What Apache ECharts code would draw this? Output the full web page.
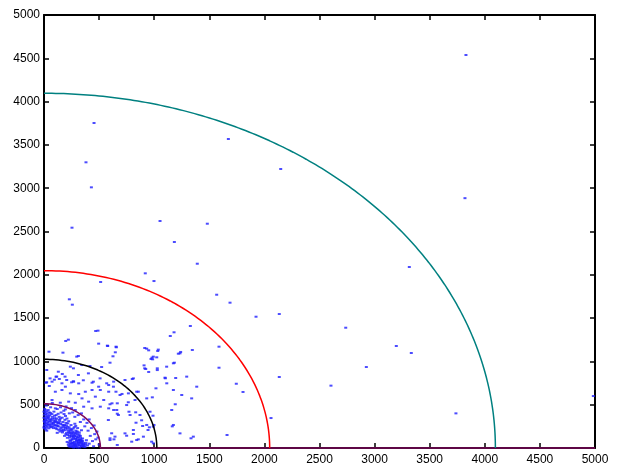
<!DOCTYPE html>
<html>
<head>
<meta charset="utf-8">
<script src="https://cdn.jsdelivr.net/npm/echarts@6/dist/echarts.min.js"></script>
<style>
  html, body { margin: 0; padding: 0; background: #fff; }
  #chart { width: 621px; height: 468px; }
</style>
</head>
<body>
<div id="chart"></div>
<script>
// tick labels, both axes 0..5000 step 500
const axisMin = 0;
const axisMax = 5000;
const tickStep = 500;

// quarter circle radii and their colours
const radii = [512, 1024, 2048, 4096];
const radiusColors = ['#7d0a5c', '#000000', '#ff0000', '#008080'];

// scattered points (outer ones)
const farPoints = [
  [454,3753],[1673,3568],[381,3299],[2148,3222],[430,3010],[254,2544],[1053,2621],[1482,2590],
  [1183,2379],[1391,2128],[919,2017],[998,1928],[514,1917],[230,1717],[257,1655],[1567,1770],
  [1688,1678],[2135,1547],[3829,4538],[3820,2885],[3315,2090],[2738,1389],[3197,1178],[3333,1097],
  [2925,935],[2604,720],[3738,400],[4985,600],[1924,1516],[1328,1409],[1180,1336],[1146,1293],
  [1588,1170],[1346,1132],[1240,1109],[1219,1089],[1032,1120],[992,1055],[971,1028],[1183,985],
  [1113,939],[1028,920],[1028,900],[1588,927],[1195,808],[1101,805],[1016,689],[1745,742],
  [1806,647],[2135,820],[983,585],[1334,112],[1661,150],[2060,346],[1191,505],[1164,250],
  [490,1355],[469,1351],[221,1251],[197,1236],[496,1205],[578,1178],[656,1163],[647,1105],
  [172,1101],[45,1112],[297,1055],[914,1155],[950,1128],[1037,1136],[980,1043],[914,920],
  [239,939],[417,947],[523,935],[801,797],[626,1059],[599,985],[950,878]
];

// points between the purple and black circles
const midPoints = [
  [653,650],[708,624],[856,650],[665,516],[765,528],[599,505],[771,419],[832,412],[665,396],
  [989,373],[835,292],[886,320],[895,254],[956,239],[944,208],[998,266],[614,170],[599,112],
  [635,100],[750,142],[811,162],[856,100],[796,73],[665,35],[992,54],
  [166,855],[109,823],[139,797],[94,789],[206,785],[266,770],[251,759],[24,759],[357,782],
  [312,1062],[575,1182],[654,1170],[932,1147],[1023,1047],[986,1024],[908,954],[923,912],
  [1098,812],[1174,978],[1234,1093],[342,958],[267,920],[130,881],[25,901],[55,804],[115,824],
  [191,824],[312,843],[403,862],[448,766],[509,804],[569,747],[630,708],[735,785],[811,804],
  [690,612],[766,631],[841,650],[932,573],[826,554],[750,496],[660,439],[584,323],[675,381],
  [781,381],[871,381],[962,419],[932,266],[992,246],[811,208],[735,169],[644,131],[599,92],
  [841,92],[902,131],[977,73],[1174,670],[1250,612],[1340,573],[1174,266],[1234,169],[1355,131],
  [1159,439],[1386,708],[1295,824],[1114,747],
  [18,754],[48,716],[73,766],[194,708],[163,747],[269,766],[315,747],[436,754],[496,708],
  [587,727],[632,766],[103,650],[163,670],[239,631],[315,623],[375,650],[436,670],[511,670],
  [587,650],[466,593],[345,573],[284,523],[224,535],[405,535],[542,554],[617,516],[73,554],
  [148,523],[360,477],[436,458],[511,477],[587,458],[632,439],[284,439],[194,446],[103,458]
];

// dense band close to the origin
const nearPoints = [
  [5,300],[12,262],[8,341],[20,285],[15,390],[28,318],[3,228],[35,270],[40,352],[10,410],
  [22,236],[48,305],[55,262],[30,395],[62,330],[18,360],[45,228],[70,290],[6,452],[38,438],
  [75,360],[58,405],[25,200],[80,250],[14,318],[42,275],[66,242],[33,345],[52,380],[88,318],
  [92,270],[105,230],[98,345],[118,300],[125,255],[110,380],[135,210],[140,325],[150,280],[128,395],
  [160,240],[165,350],[172,300],[145,190],[185,265],[190,325],[178,215],[200,290],[155,410],[120,175],
  [210,245],[195,370],[208,340],[220,200],[102,305],[138,360],[168,180],[182,392],[224,310],[115,340],
  [230,170],[240,220],[250,135],[245,265],[262,190],[270,150],[275,240],[285,110],[290,200],[300,160],
  [255,95],[310,120],[305,230],[320,180],[235,120],[215,150],[280,280],[330,140],[298,85],[265,225],
  [322,95],[248,175],[288,255],[340,205],[205,175],[312,60],[258,60],[236,90],[350,110],[295,135],
  [220,40],[235,15],[248,55],[262,25],[275,70],[282,10],[290,45],[300,20],[310,75],[318,35],
  [325,5],[335,55],[340,20],[350,80],[360,40],[372,10],[380,60],[395,30],[240,80],[268,40],
  [296,62],[305,5],[330,90],[355,15],[270,5],[210,70],[228,60],[345,45],[385,90],[410,50],
  [60,470],[120,450],[180,430],[230,400],[280,360],[330,300],[370,250],[400,200],[420,140],[440,80],
  [450,20],[90,420],[150,470],[260,410],[310,380],[360,330],[390,290],[430,230],[460,160],[470,100],
  [20,490],[75,520],[200,480],[250,460],[340,400],[410,330],[455,260],[480,190],[500,40],[490,120],
  [4,265],[16,215],[27,372],[50,330],[85,285],[112,262],[132,290],[158,205],[176,260],[196,230],
  [216,285],[228,240],[252,210],[268,120],[283,165],[302,190],[318,140],[336,100],[244,30],[278,30],
  [2,312],[9,286],[19,332],[26,252],[36,298],[44,366],[53,246],[61,312],[68,272],[77,338],
  [84,230],[94,298],[101,258],[108,322],[116,218],[124,282],[131,248],[143,306],[152,226],[163,270],
  [171,196],[183,242],[192,206],[203,262],[213,222],[226,182],[238,198],[246,152],[256,168],[264,132],
  [272,176],[279,138],[287,102],[294,180],[303,118],[311,92],[319,158],[327,72],[332,118],[342,84],
  [226,24],[242,46],[254,12],[266,62],[276,48],[286,26],[294,84],[306,38],[316,56],[328,28],
  [338,68],[348,30],[358,58],[366,26],[376,42],[260,105],[232,140],[212,118],[198,160],[186,140],
  [0,240],[0,350],[0,420],[3,384],[11,438],[24,420],[47,412],[72,392],[96,372],[148,340]
];

const chart = echarts.init(document.getElementById('chart'));

// quarter arc through the axes for a given radius
function arcPoints(r) {
  const pts = [];
  for (let i = 0; i <= 180; i++) {
    const t = (Math.PI / 2) * i / 180;
    pts.push([r * Math.sin(t), r * Math.cos(t)]);
  }
  return pts;
}

const labelFont = { color: '#000', fontSize: 12, fontFamily: 'Liberation Sans, Arial, sans-serif' };
const lineStyle = { color: '#000', width: 2 };

const arcSeries = radii.map((r, i) => {
  const data = arcPoints(r);
  if (i === 0) data.push([axisMax, 0]); // purple one runs on along the bottom
  return {
    type: 'line',
    data: data,
    showSymbol: false,
    clip: false,
    z: 3,
    lineStyle: { color: radiusColors[i], width: 1.5 },
    silent: true
  };
});

const makeAxis = (pos, showLabel, margin) => ({
  type: 'value',
  position: pos,
  min: axisMin,
  max: axisMax,
  interval: tickStep,
  splitLine: { show: false },
  axisLine: { show: true, lineStyle: lineStyle, onZero: false },
  axisTick: { show: true, inside: true, length: 5, lineStyle: { color: '#000', width: 1.5 } },
  axisLabel: Object.assign({ show: showLabel, margin: margin, formatter: v => String(v) }, labelFont)
});

chart.setOption({
  animation: false,
  backgroundColor: '#fff',
  grid: { left: 44, right: 26, top: 15, bottom: 20 },
  xAxis: [makeAxis('bottom', true, 6), makeAxis('top', false, 6)],
  yAxis: [makeAxis('left', true, 4), makeAxis('right', false, 4)],
  series: [
    {
      type: 'scatter',
      data: farPoints.concat(midPoints, nearPoints),
      symbol: 'rect',
      symbolSize: [3, 2],
      itemStyle: { color: '#1f1fff' },
      z: 2
    }
  ].concat(arcSeries)
});
</script>
</body>
</html>
